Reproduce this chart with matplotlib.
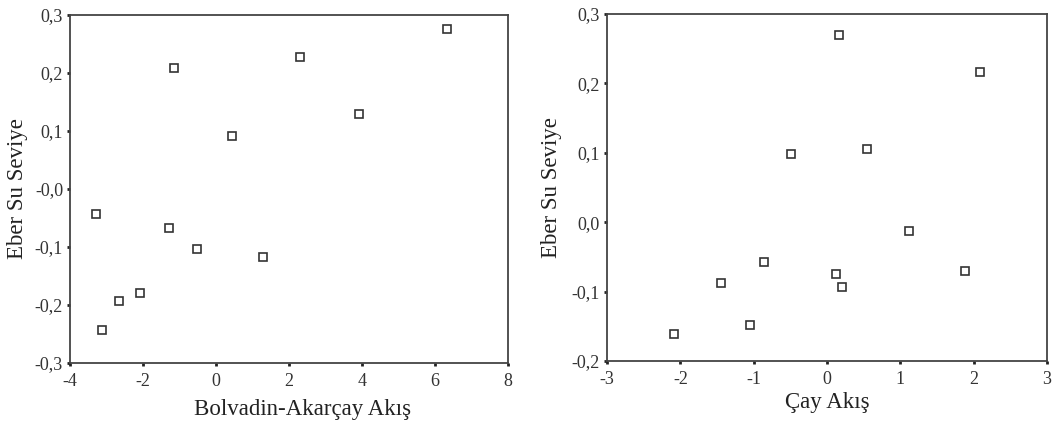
import matplotlib.pyplot as plt

plt.rcParams['font.family'] = ['Liberation Serif', 'DejaVu Serif']

# Sol grafik: Bolvadin-Akarçay akış
bolv_x = [6.34, 2.30, -1.15, 3.92, 0.43, -3.30, -1.29, -0.52, 1.28, -2.07, -2.65, -3.12]
bolv_y = [0.275, 0.228, 0.208, 0.130, 0.092, -0.044, -0.067, -0.103, -0.118, -0.180, -0.193, -0.244]
bolv_xticks = [-4, -2, 0, 2, 4, 6, 8]
bolv_yticks = [-0.3, -0.2, -0.1, 0.0, 0.1, 0.2, 0.3]
bolv_ylabels = ['-0,3', '-0,2', '-0,1', '-0,0', '0,1', '0,2', '0,3']

# Sağ grafik: Çay akış
cay_x = [0.16, 2.08, -0.49, 0.55, 1.12, -0.86, -1.445, 0.12, 0.20, 1.886, -1.055, -2.08]
cay_y = [0.270, 0.217, 0.099, 0.105, -0.0125, -0.057, -0.087, -0.074, -0.093, -0.071, -0.148, -0.161]
cay_xticks = [-3, -2, -1, 0, 1, 2, 3]
cay_yticks = [-0.2, -0.1, 0.0, 0.1, 0.2, 0.3]
cay_ylabels = ['-0,2', '-0,1', '0,0', '0,1', '0,2', '0,3']

fig = plt.figure(figsize=(10.54, 4.28), dpi=100)
ax1 = fig.add_axes([0.0664, 0.152, 0.4156, 0.813])
ax2 = fig.add_axes([0.5759, 0.1565, 0.4175, 0.8107])


def ciz(ax, x, y, xt, yt, ylab, xlabel, xlab_pos, ylab_pos):
    ax.plot(x, y, linestyle='none', marker='s', markersize=5.5,
            markerfacecolor='white', markeredgecolor='#333333', markeredgewidth=1.2)
    ax.set_xlim(xt[0], xt[-1])
    ax.set_ylim(yt[0], yt[-1])
    ax.set_xticks(xt)
    ax.set_xticklabels([str(v) for v in xt])
    ax.set_yticks(yt)
    ax.set_yticklabels(ylab)
    ax.tick_params(direction='out', length=2, width=2, color='#222222',
                   labelsize=13, labelcolor='#333333')
    ax.tick_params(axis='x', pad=5)
    ax.tick_params(axis='y', pad=3)
    for s in ax.spines.values():
        s.set_color('#444444')
        s.set_linewidth(1.3)
    ax.set_xlabel(xlabel, fontsize=16.5, color='#222222')
    ax.set_ylabel('Eber Su Seviye', fontsize=16.5, color='#222222')
    # etiket konumları (eksen koordinatları)
    ax.xaxis.set_label_coords(*xlab_pos)
    ax.yaxis.set_label_coords(*ylab_pos)


ciz(ax1, bolv_x, bolv_y, bolv_xticks, bolv_yticks, bolv_ylabels,
    'Bolvadin-Akarçay Akış', (0.53, -0.105), (-0.096, 0.5))
ciz(ax2, cay_x, cay_y, cay_xticks, cay_yticks, cay_ylabels,
    'Çay Akış', (0.50, -0.09), (-0.102, 0.5))

fig.savefig('out.png', dpi=100)
